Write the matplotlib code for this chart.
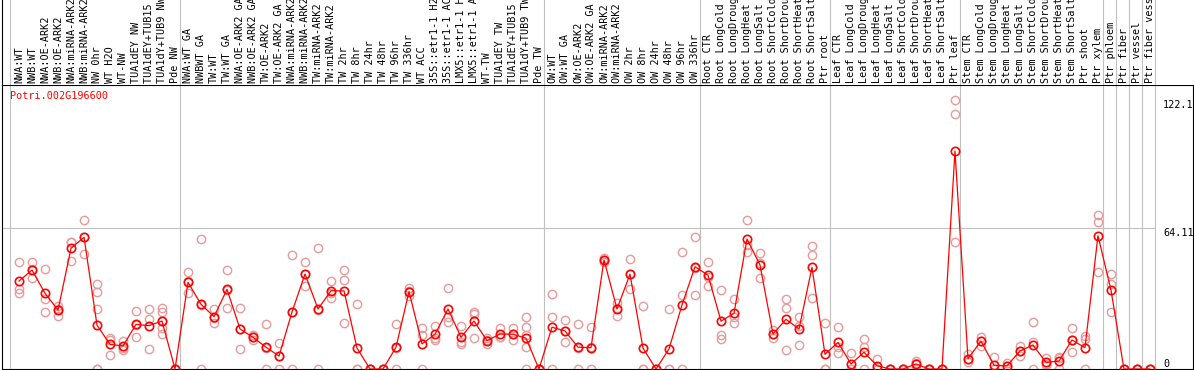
import matplotlib
matplotlib.use('Agg')
import matplotlib.pyplot as plt
import matplotlib.transforms as mtrans
import numpy as np

gene = 'Potri.002G196600'

labels = ['NWA:WT', 'NWB:WT', 'NWA:OE-ARK2', 'NWB:OE-ARK2', 'NWA:miRNA-ARK2',
          'NWB:miRNA-ARK2', 'NW 0hr', 'WT H2O', 'WT-NW', 'TUA1dEY NW',
          'TUA1dEY+TUB15 NW', 'TUA1dY+TUB9 NW', 'Pde NW',
          'NWA:WT GA', 'NWBWT GA', 'TW:WT', 'TW:WT GA', 'NWA:OE-ARK2 GA',
          'NWB:OE-ARK2 GA', 'TW:OE-ARK2', 'TW:OE-ARK2 GA', 'NWA:miRNA-ARK2 GA',
          'NWB:miRNA-ARK2 GA', 'TW:miRNA-ARK2 GA', 'TW:miRNA-ARK2', 'TW 2hr',
          'TW 8hr', 'TW 24hr', 'TW 48hr', 'TW 96hr', 'TW 336hr', 'WT ACC',
          '35S::etr1-1 H2O', '35S::etr1-1 ACC', 'LMX5::etr1-1 H2O',
          'LMX5::etr1-1 ACC', 'WT-TW', 'TUA1dEY TW', 'TUA1dEY+TUB15 TW',
          'TUA1dY+TUB9 TW', 'Pde TW',
          'OW:WT', 'OW:WT GA', 'OW:OE-ARK2', 'OW:OE-ARK2 GA', 'OW:miRNA-ARK2',
          'OW:miRNA-ARK2 GA', 'OW 2hr', 'OW 8hr', 'OW 24hr', 'OW 48hr',
          'OW 96hr', 'OW 336hr',
          'Root CTR', 'Root LongCold', 'Root LongDrought', 'Root LongHeat',
          'Root LongSalt', 'Root ShortCold', 'Root ShortDrought',
          'Root ShortHeat', 'Root ShortSalt', 'Ptr root',
          'Leaf CTR', 'Leaf LongCold', 'Leaf LongDrought', 'Leaf LongHeat',
          'Leaf LongSalt', 'Leaf ShortCold', 'Leaf ShortDrought',
          'Leaf ShortHeat', 'Leaf ShortSalt', 'Ptr leaf',
          'Stem CTR', 'Stem LongCold', 'Stem LongDrought', 'Stem LongHeat',
          'Stem LongSalt', 'Stem ShortCold', 'Stem ShortDrought',
          'Stem ShortHeat', 'Stem ShortSalt', 'Ptr shoot', 'Ptr xylem',
          'Ptr phloem', 'Ptr fiber', 'Ptr vessel', 'Ptr fiber vessel']

group_sizes = [13, 28, 12, 10, 10, 11, 1, 1, 1, 1]

means = [40.0, 45.0, 34.4, 26.8, 54.9, 59.9, 19.9, 11.2, 10.5, 20.3, 19.7, 21.8, 0.0,
         39.4, 29.4, 23.8, 36.2, 18.2, 14.4, 9.9, 5.9, 25.9, 43.2, 27.3, 35.6, 35.5,
         9.5, 0.0, 0.0, 9.9, 35.2, 11.4, 15.8, 27.3, 14.4, 21.8, 12.9, 15.9, 15.8,
         14.0, 0.0,
         19.0, 17.3, 9.9, 9.7, 49.6, 27.3, 43.1, 9.5, 0.0, 9.1, 29.1, 46.5,
         42.7, 21.8, 25.3, 59.1, 47.3, 15.9, 22.6, 18.2, 46.2, 6.7,
         12.1, 2.3, 7.6, 1.5, 0.0, 0.0, 2.3, 0.0, 0.0, 99.1,
         4.7, 12.7, 1.7, 1.4, 8.2, 10.9, 3.0, 3.6, 13.2, 9.7, 60.6,
         35.9, 0.0, 0.0, 0.0]

reps = [[48.5, 36.4, 34.4], [48.5, 45.3, 41.2], [45.3, 31.7, 25.8], [28.8, 27.4, 24.2],
        [57.6, 57.9, 49.3], [67.7, 59.9, 52.1], [38.6, 34.9, 27.3, 0, 0],
        [14.2, 13.0, 6.4], [12.7, 9.4, 8.6], [26.4, 20.1, 14.4], [27.1, 22.7, 8.9],
        [27.9, 25.8, 22.0, 18.8, 15.8], [0, 0, 0],
        [44.0, 39.8, 34.4], [59.1, 29.1, 0], [27.3, 23.3, 20.8], [45.0, 36.0, 27.6],
        [27.6, 18.1, 8.9], [15.5, 14.4, 13.3], [20.3, 9.4, 0], [11.7, 6.0, 0],
        [51.8, 25.9, 0], [48.5, 43.4, 37.7], [54.9, 27.0, 0], [40.0, 34.7, 32.1],
        [45.0, 40.5, 20.8], [29.6, 0, 0], [0, 0, 0], [0, 0, 0], [20.3, 9.4, 0],
        [37.0, 35.4, 33.2], [18.5, 15.5, 0], [19.6, 14.0, 13.2], [36.7, 23.8, 21.5],
        [19.6, 12.2, 11.4], [26.1, 24.9, 14.0], [14.0, 13.3, 11.4],
        [18.5, 14.7, 14.5], [18.5, 15.7, 13.2], [23.8, 19.0, 15.5, 9.9, 0], [0, 0, 0],
        [34.1, 23.5, 0], [22.3, 17.5, 12.1], [20.3, 9.4, 0], [19.0, 10.1, 0],
        [50.6, 49.6, 48.6], [29.9, 27.8, 24.2], [49.9, 43.2, 36.2], [28.6, 0, 0],
        [0, 0, 0], [27.3, 0, 0], [53.3, 33.6, 0], [59.9, 46.0, 33.6],
        [48.5, 41.7, 37.9], [35.9, 15.5, 13.5], [31.7, 23.5, 20.8], [67.7, 56.6, 53.0],
        [52.6, 48.1, 41.2], [17.7, 16.0, 14.0], [31.7, 27.9, 8.6], [23.8, 19.6, 10.8],
        [55.9, 51.8, 32.1], [20.8, 0, 0],
        [19.2, 10.0, 7.1], [7.1, 0, 0], [13.6, 10.1, 0], [4.4, 0, 0], [0, 0, 0],
        [0, 0, 0], [3.6, 2.9, 0], [0, 0, 0], [0, 0, 0], [122.1, 115.8, 57.9],
        [6.8, 4.4, 3.3], [14.7, 12.8, 10.6], [5.3, 0, 0], [2.9, 1.2, 0],
        [10.6, 8.0, 6.0], [21.2, 12.4, 0], [4.9, 2.3, 1.8], [5.6, 5.2, 0],
        [18.5, 13.2, 7.9], [15.0, 13.5, 0], [70.0, 66.7, 44.0],
        [43.2, 38.6, 25.8], [0, 0, 0], [0, 0, 0], [0, 0, 0]]

ytick_vals = [122.1, 64.11, 0]
ytick_text = ['122.1', '64.11', '0']

#--------------------------------------------------------------------
W, H = 1194, 370
plt.rcParams['font.family'] = 'DejaVu Sans Mono'
fs = 7.3
grey = '#C0C0C0'
pink = '#E99A9A'

fig = plt.figure(figsize=(W/100, H/100), dpi=100)
ax = fig.add_axes([2/W, 1/H, 1191/W, 284/H])
axl = fig.add_axes([2/W, 285/H, 1191/W, 85/H], sharex=ax)

n = len(labels)
x = np.arange(n)
ax.set_xlim(-1.31, n + 2.31)
ax.set_ylim(0, 129.13)

# group separators
ends = np.cumsum(group_sizes) - 1 + 0.42
bounds = np.concatenate([[-0.69], ends])
for b in bounds:
    ax.axvline(b, color=grey, lw=0.8, zorder=1)
    axl.axvline(b, color=grey, lw=0.8, zorder=1)
ax.hlines(ytick_vals[1], -1.31, bounds[-1], color=grey, lw=0.8, zorder=1)

# replicates
rx = [i for i, r in enumerate(reps) for v in r]
ry = [v for r in reps for v in r]
ax.plot(rx, ry, 'o', mfc='none', mec=pink, ms=6, mew=1.0, zorder=2)

# means
ax.plot(x, means, '-', color='red', lw=0.9, zorder=3)
ax.plot(x, means, 'o', mfc='none', mec='red', ms=6, mew=1.2, zorder=4)

ax.set_xticks([])
ax.set_yticks([])
for s in ax.spines.values():
    s.set_color('k')
    s.set_linewidth(0.8)

axl.set_xticks([])
axl.set_yticks([])
for k in ['top', 'right', 'bottom']:
    axl.spines[k].set_visible(False)
axl.spines['left'].set_linewidth(0.8)

trans = mtrans.blended_transform_factory(axl.transData, axl.transAxes)
for i, lab in enumerate(labels):
    axl.text(i, 2/85, lab, rotation=90, ha='center', va='bottom',
             fontsize=fs, transform=trans)

for v, t in zip(ytick_vals, ytick_text):
    ax.text(n, v, t, ha='left', va='bottom' if v == 0 else 'top', fontsize=fs)

fig.text(10/W, 1 - 91/H, gene, color='red', ha='left', va='top', fontsize=fs)

plt.savefig('out.png', dpi=100)
